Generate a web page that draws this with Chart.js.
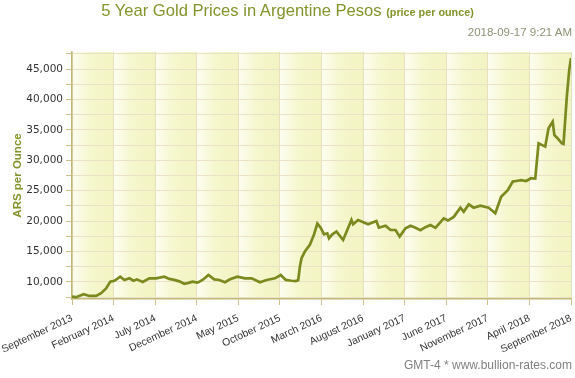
<!DOCTYPE html>
<html>
<head>
<meta charset="utf-8">
<script src="https://cdn.jsdelivr.net/npm/chart.js@4"></script>
<style>
  html, body { margin: 0; padding: 0; background: #ffffff; }
  #wrap { position: relative; width: 575px; height: 378px; overflow: hidden; }
  #chart { position: absolute; left: 0; top: 0; }
  .t { position: absolute; white-space: nowrap; font-family: "Liberation Sans", Arial, sans-serif; }
  #title { left: 0; width: 575px; top: 1px; text-align: center; font-size: 16.6px; color: #84932b; line-height: 20px; }
  #title b { font-size: 10.8px; }
  #stamp { right: 3px; top: 25px; font-size: 11.5px; color: #8e9272; line-height: 14px; }
  #foot { right: 3px; top: 358px; font-size: 12px; color: #808080; line-height: 14px; }
</style>
</head>
<body>
<div id="wrap">
  <canvas id="chart" width="575" height="378"></canvas>
  <div class="t" id="title">5 Year Gold Prices in Argentine Pesos <b>(price per ounce)</b></div>
  <div class="t" id="stamp">2018-09-17 9:21 AM</div>
  <div class="t" id="foot">GMT-4 * www.bullion-rates.com</div>
</div>
<script>
// ---- data ----
const xLabels = ["September 2013","February 2014","July 2014","December 2014","May 2015","October 2015","March 2016","August 2016","January 2017","June 2017","November 2017","April 2018","September 2018"];
// months elapsed since September 2013
const months = [0,0.5,1.4,2.1,2.9,3.5,4.1,4.6,5.1,5.8,6.3,6.9,7.4,7.8,8.5,9.3,10.1,11.1,11.7,12.3,12.9,13.5,14.0,14.5,15.1,15.7,16.4,17.1,17.7,18.4,19.0,19.9,20.8,21.6,22.6,23.4,24.4,25.1,25.7,26.4,26.9,27.2,27.4,27.6,28.0,28.6,29.1,29.5,29.9,30.3,30.7,30.9,31.3,31.8,32.6,33.6,33.8,34.4,35.6,36.6,36.9,37.7,38.3,38.9,39.4,40.1,40.7,41.3,41.9,42.5,43.1,43.7,44.7,45.2,45.9,46.7,47.1,47.7,48.3,49.1,50.1,50.9,51.6,52.4,53.0,53.4,54.0,54.6,55.2,55.7,56.1,56.9,57.3,57.8,58.0,58.4,58.9,59.1,59.5,59.8,60.0];
const prices = [7600,7500,8000,7700,7700,8150,8950,10050,10200,10870,10330,10600,10200,10430,10000,10600,10600,10870,10500,10350,10100,9700,9850,10050,9890,10330,11150,10430,10330,9950,10430,10870,10600,10600,9950,10330,10600,11150,10330,10200,10150,10300,12500,13900,15000,16100,17800,19600,18920,17840,18000,17180,17840,18270,16900,20190,19480,20190,19480,20020,18920,19250,18540,18540,17450,18820,19250,18920,18500,19000,19350,18900,20450,20100,20700,22200,21550,22750,22200,22550,22200,21300,24000,25100,26500,26600,26750,26600,27050,27000,32800,32250,35250,36350,34150,33600,32800,32700,40500,45000,46800];
const yTickValues = [7500,10000,12500,15000,17500,20000,22500,25000,27500,30000,32500,35000,37500,40000,42500,45000,47500];
const yLabelled = [10000,15000,20000,25000,30000,35000,40000,45000];

const points = months.map((m, i) => ({ x: m, y: prices[i] }));

const bgPlugin = {
  id: 'bg',
  beforeDraw(chart) {
    const { ctx, chartArea: a, scales } = chart;
    ctx.save();
    ctx.fillStyle = '#f6f7d2';
    ctx.fillRect(a.left, a.top, a.right - a.left, a.bottom - a.top);
    for (let i = 0; i < xLabels.length - 1; i++) {
      const x0 = scales.x.getPixelForValue(i * 5);
      const x1 = scales.x.getPixelForValue((i + 1) * 5);
      const g = ctx.createLinearGradient(x0, 0, x1, 0);
      g.addColorStop(0, '#fdfdf1');
      g.addColorStop(0.45, '#f5f7cd');
      g.addColorStop(1, '#f2f4c3');
      ctx.fillStyle = g;
      ctx.fillRect(x0, a.top, x1 - x0, a.bottom - a.top);
    }
    ctx.restore();
  }
};

new Chart(document.getElementById('chart'), {
  type: 'line',
  data: {
    datasets: [{
      data: points,
      borderColor: '#7b8a1e',
      borderWidth: 2.7,
      pointRadius: 0,
      tension: 0,
      fill: false
    }]
  },
  plugins: [bgPlugin],
  options: {
    responsive: false,
    animation: false,
    devicePixelRatio: 1,
    layout: { padding: { top: 52, right: 4, bottom: 0, left: 0 } },
    plugins: { legend: { display: false }, tooltip: { enabled: false }, title: { display: false } },
    scales: {
      x: {
        type: 'linear',
        min: 0,
        max: 60,
        afterBuildTicks(s) { s.ticks = xLabels.map((_, i) => ({ value: i * 5 })); },
        afterFit(s) { s.height = 79; s.paddingLeft = 0; s.paddingRight = 0; },
        ticks: {
          autoSkip: false,
          minRotation: 25,
          maxRotation: 25,
          padding: 7,
          color: '#333333',
          font: { family: 'Liberation Sans', size: 10.4 },
          callback: (v) => xLabels[Math.round(v / 5)]
        },
        grid: { color: '#e7dfbd', lineWidth: 1, tickLength: 6, tickColor: '#cbc18c', drawOnChartArea: true },
        border: { color: '#c2b878', width: 1.5 }
      },
      y: {
        min: 7200,
        max: 47800,
        afterBuildTicks(s) { s.ticks = yTickValues.map(v => ({ value: v })); },
        afterFit(s) { s.width = 72; },
        ticks: {
          autoSkip: false,
          padding: 3,
          color: '#333333',
          font: { family: 'DejaVu Sans', size: 10.5 },
          callback: (v) => yLabelled.includes(v) ? v.toLocaleString('en-US') : ''
        },
        grid: { color: '#e9e2c6', lineWidth: 1, tickLength: 6, tickColor: '#cbc18c' },
        border: { color: '#c2b878', width: 1.5 },
        title: {
          display: true,
          text: 'ARS per Ounce',
          color: '#84932b',
          font: { family: 'Liberation Sans', size: 11.5, weight: 'bold' },
          padding: { top: 11, bottom: 0 }
        }
      }
    }
  }
});
</script>
</body>
</html>
